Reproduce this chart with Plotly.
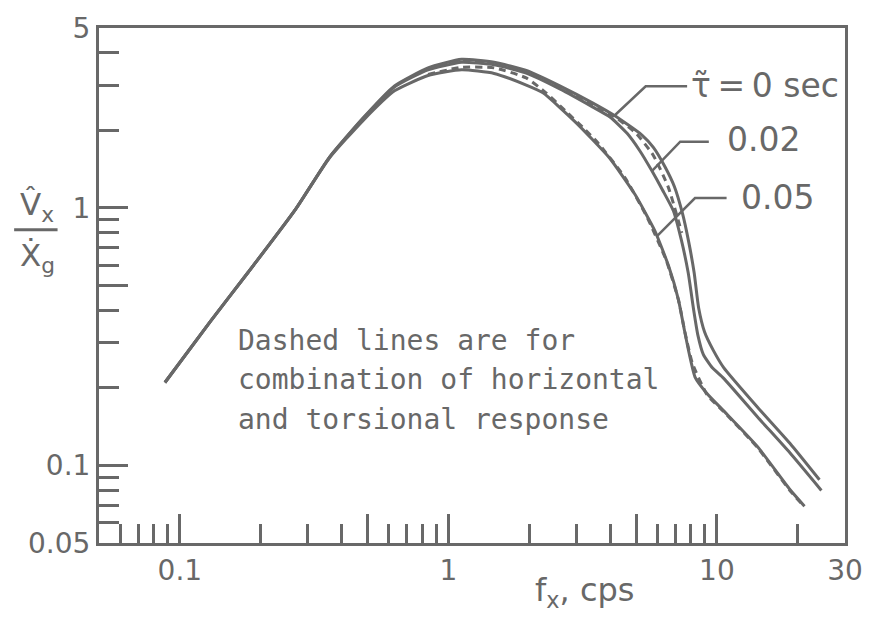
import plotly.graph_objects as go

# ---------------- data ----------------
freq_t0 = [0.088, 0.13, 0.18, 0.27, 0.36, 0.48, 0.63, 0.84, 1.12, 1.48, 1.95, 2.6, 3.44, 4.14,
           5.26, 5.8, 6.4, 6.95, 7.45, 7.85, 8.23, 8.55, 9.0, 9.7, 10.6, 14.2, 18.7, 24.1]
vx_t0 = [0.21, 0.363, 0.564, 0.99, 1.57, 2.23, 2.98, 3.5, 3.78, 3.68, 3.42, 2.98, 2.56, 2.29,
         1.92, 1.72, 1.45, 1.21, 0.95, 0.74, 0.56, 0.41, 0.33, 0.28, 0.24, 0.168, 0.122, 0.088]

freq_t02 = [0.088, 0.13, 0.18, 0.27, 0.36, 0.48, 0.63, 0.84, 1.12, 1.48, 1.95, 2.6, 3.44, 4.01,
            4.63, 5.17, 5.72, 6.28, 6.89, 7.38, 7.82, 8.2, 8.5, 8.9, 9.6, 10.6, 14.2, 18.7, 24.5]
vx_t02 = [0.21, 0.363, 0.564, 0.99, 1.57, 2.22, 2.95, 3.44, 3.68, 3.6, 3.34, 2.90, 2.47, 2.25,
          1.95, 1.665, 1.397, 1.172, 0.974, 0.748, 0.56, 0.40, 0.32, 0.27, 0.24, 0.218, 0.154,
          0.112, 0.080]

freq_t05 = [0.088, 0.13, 0.18, 0.27, 0.36, 0.48, 0.63, 0.84, 1.12, 1.48, 1.95, 2.25, 2.98, 3.97,
            4.95, 5.87, 6.61, 7.19, 7.55, 7.9, 8.3, 9.2, 10.6, 14.2, 18.7, 21.2]
vx_t05 = [0.21, 0.363, 0.564, 0.99, 1.56, 2.18, 2.85, 3.27, 3.44, 3.33, 3.0, 2.8, 2.15, 1.57,
          1.13, 0.817, 0.595, 0.441, 0.34, 0.27, 0.22, 0.19, 0.163, 0.118, 0.0807, 0.0695]

freq_dash_a = [0.84, 1.12, 1.48, 1.95, 2.6, 3.44, 4.14, 5.0, 5.8, 6.6, 7.4]
vx_dash_a = [3.47, 3.72, 3.63, 3.38, 2.94, 2.51, 2.27, 1.95, 1.6, 1.2, 0.8]

freq_dash_b = [0.84, 1.12, 1.48, 1.95, 2.31, 2.72, 3.16, 3.59, 4.55, 5.5, 6.5, 7.19, 7.6, 8.1,
               9.2, 10.6, 14.2, 18.7, 21.2]
vx_dash_b = [3.3, 3.52, 3.5, 3.2, 2.80, 2.39, 2.06, 1.80, 1.31, 0.92, 0.62, 0.44, 0.33, 0.25,
             0.188, 0.162, 0.117, 0.080, 0.069]

curve_labels = ["τ̃\u2009=\u20090 sec", "0.02", "0.05"]
note_lines = ["Dashed lines are for", "combination of horizontal", "and torsional response"]

x_labeled = [0.1, 1, 10, 30]
x_labeled_text = ["0.1", "1", "10", "30"]
x_long = [0.5, 5]
x_minor = [0.06, 0.07, 0.08, 0.09, 0.2, 0.3, 0.4, 0.6, 0.7, 0.8, 0.9,
           2, 3, 4, 6, 7, 8, 9, 20]
y_labeled = [0.05, 0.1, 1, 5]
y_labeled_text = ["0.05", "0.1", "1", "5"]
y_long = [0.5]
y_minor = [0.06, 0.07, 0.08, 0.09, 0.2, 0.3, 0.4, 0.6, 0.7, 0.8, 0.9, 2, 3, 4]

# ---------------- style ----------------
INK = "#686868"
W, H = 875, 618
L, R, T, B = 99, 20, 22, 75
XR = [-1.30103, 1.47712]
YR = [-1.30103, 0.69897]


def px(xp):
    return (xp - L) / (W - L - R)


def py(yp):
    return (H - B - yp) / (H - T - B)


fig = go.Figure()
for fx, vy in [(freq_t0, vx_t0), (freq_t02, vx_t02), (freq_t05, vx_t05)]:
    fig.add_trace(go.Scatter(x=fx, y=vy, mode="lines",
                             line=dict(color=INK, width=3, shape="spline", smoothing=0.5),
                             showlegend=False, hoverinfo="skip"))
for fx, vy in [(freq_dash_a, vx_dash_a), (freq_dash_b, vx_dash_b)]:
    fig.add_trace(go.Scatter(x=fx, y=vy, mode="lines",
                             line=dict(color=INK, width=3, dash="7px,5px", shape="spline", smoothing=0.5),
                             showlegend=False, hoverinfo="skip"))
# invisible trace on the overlay axes that carry the long unlabeled ticks
fig.add_trace(go.Scatter(x=[1], y=[1], xaxis="x2", yaxis="y2", mode="markers",
                         marker=dict(opacity=0), showlegend=False, hoverinfo="skip"))

tick_font = dict(family="DejaVu Sans", size=28, color=INK)
common = dict(type="log", showgrid=False, zeroline=False, tickmode="array", ticks="inside",
              ticklen=29, tickwidth=3, tickcolor=INK)
fig.update_layout(
    xaxis=dict(**common, range=XR, showline=True, linewidth=3, linecolor=INK, mirror=True,
               tickvals=x_labeled, ticktext=x_labeled_text, tickfont=tick_font,
               minor=dict(tickmode="array", tickvals=x_minor, ticks="inside", ticklen=19,
                          tickwidth=3, tickcolor=INK, showgrid=False)),
    yaxis=dict(**common, range=YR, showline=True, linewidth=3, linecolor=INK, mirror=True,
               tickvals=y_labeled, ticktext=y_labeled_text, tickfont=tick_font,
               minor=dict(tickmode="array", tickvals=y_minor, ticks="inside", ticklen=20,
                          tickwidth=3, tickcolor=INK, showgrid=False)),
    xaxis2=dict(**common, range=XR, overlaying="x", anchor="y", side="bottom", showline=False,
                tickvals=x_long, showticklabels=False),
    yaxis2=dict(**common, range=YR, overlaying="y", anchor="x", side="left", showline=False,
                tickvals=y_long, showticklabels=False),
)

annots = []
for i, line in enumerate(note_lines):
    annots.append(dict(x=px(238), y=py(338 + 40 * i), xref="paper", yref="paper", text=line,
                       showarrow=False, xanchor="left", yanchor="middle",
                       font=dict(family="DejaVu Sans Mono", size=28, color=INK)))
label_pos = [(697, 80), (733, 135), (748, 193)]
for (xp, yp), txt in zip(label_pos, curve_labels):
    annots.append(dict(x=px(xp), y=py(yp), xref="paper", yref="paper", text=txt, showarrow=False,
                       xanchor="left", yanchor="middle",
                       font=dict(family="DejaVu Sans", size=33, color=INK)))
annots.append(dict(x=px(591), y=py(593), xref="paper", yref="paper", text="f<sub>x</sub>, cps",
                   showarrow=False, xanchor="center", yanchor="middle",
                   font=dict(family="DejaVu Sans", size=32, color=INK)))
annots.append(dict(x=px(36), y=py(203), xref="paper", yref="paper", text="V\u0302<sub>x</sub>",
                   showarrow=False, xanchor="center", yanchor="middle",
                   font=dict(family="DejaVu Sans", size=31, color=INK)))
annots.append(dict(x=px(37), y=py(254), xref="paper", yref="paper", text="X\u0307<sub>g</sub>",
                   showarrow=False, xanchor="center", yanchor="middle",
                   font=dict(family="DejaVu Sans", size=31, color=INK)))

shapes = [dict(type="line", xref="paper", yref="paper", x0=px(13), x1=px(57), y0=py(226), y1=py(226),
               line=dict(color=INK, width=3))]
leaders = [[(695, 81), (653, 81), (622, 110)],
           [(717, 137), (688, 137), (660, 166)],
           [(735, 194), (703, 194), (665, 232)]]
for pts in leaders:
    path = "M " + " L ".join(f"{px(a):.5f},{py(b):.5f}" for a, b in pts)
    shapes.append(dict(type="path", xref="paper", yref="paper", path=path,
                       line=dict(color=INK, width=2.5)))

fig.update_layout(width=W, height=H, margin=dict(l=L, r=R, t=T, b=B, pad=0),
                  paper_bgcolor="white", plot_bgcolor="white",
                  annotations=annots, shapes=shapes, showlegend=False)

fig.write_html("out.html", config={"displayModeBar": False},
               post_script="document.body.style.margin='0';document.body.style.overflow='hidden';")
